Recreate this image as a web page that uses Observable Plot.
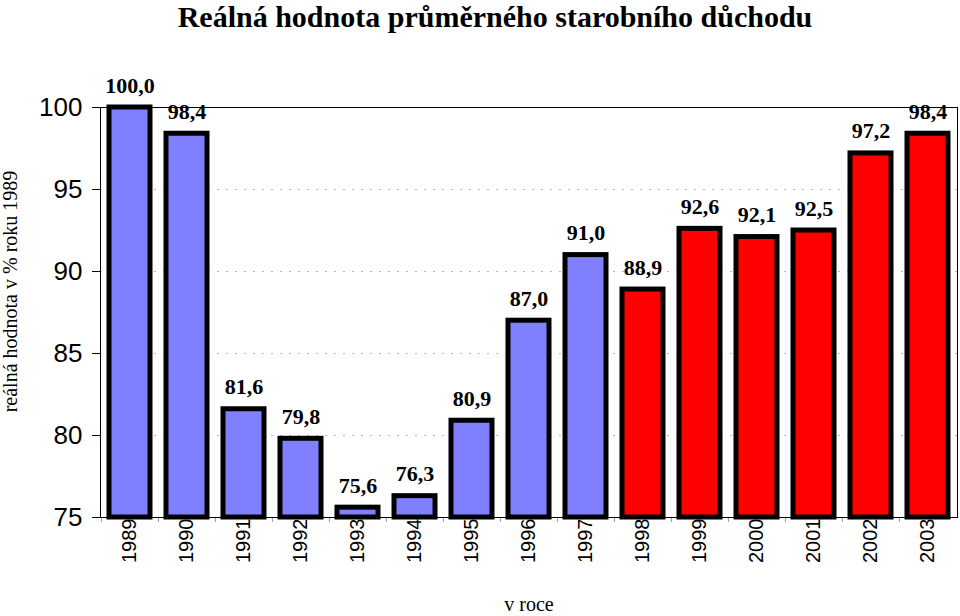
<!DOCTYPE html>
<html>
<head>
<meta charset="utf-8">
<script src="https://cdn.jsdelivr.net/npm/d3@7"></script>
<script src="https://cdn.jsdelivr.net/npm/@observablehq/plot@0.6"></script>
<style>
  html, body { margin: 0; padding: 0; background: #fff; overflow: hidden; }
  #title { width: 960px; height: 32px; line-height: 34px; text-align: center; padding-left: 30px; box-sizing: border-box;
           font-family: "Liberation Serif", "DejaVu Serif", serif; font-weight: bold; font-size: 30px; color: #000; white-space: nowrap; }
  #chart svg { display: block; }
</style>
</head>
<body>
<div id="title"></div>
<div id="chart"></div>
<script>
const titleText = "Reálná hodnota průměrného starobního důchodu";
const yLabel = "reálná hodnota v % roku 1989";
const xLabel = "v roce";
const years = ["1989","1990","1991","1992","1993","1994","1995","1996","1997","1998","1999","2000","2001","2002","2003"];
const values = [100.0, 98.4, 81.6, 79.8, 75.6, 76.3, 80.9, 87.0, 91.0, 88.9, 92.6, 92.1, 92.5, 97.2, 98.4];
const periods = ["před 1998","před 1998","před 1998","před 1998","před 1998","před 1998","před 1998","před 1998","před 1998",
                 "od 1998","od 1998","od 1998","od 1998","od 1998","od 1998"];
const yTicks = [75, 80, 85, 90, 95, 100];
const gridTicks = [80, 85, 90, 95];
const yDomain = [75, 100];

document.getElementById("title").textContent = titleText;

const data = years.map((y, i) => ({year: y, value: values[i], period: periods[i]}));
const serif = "Liberation Serif, DejaVu Serif, serif";
const sans = "Liberation Sans, Arial, sans-serif";

const width = 960, height = 584;
const mL = 100, mR = 3, mT = 75, mB = 99;
const bw = (width - mL - mR) / years.length;

const chart = Plot.plot({
  width, height,
  marginLeft: mL, marginRight: mR, marginTop: mT, marginBottom: mB,
  style: {background: "#fff", overflow: "visible"},
  x: {domain: years, paddingInner: 0.28, paddingOuter: 0.14, align: 0.5, label: null},
  y: {domain: yDomain, label: null},
  color: {domain: ["před 1998", "od 1998"], range: ["#8080FF", "#FF0000"]},
  marks: [
    Plot.ruleY(gridTicks, {stroke: "#b8b8b8", strokeDasharray: "2,7", strokeWidth: 1.2}),
    Plot.ruleX(years, {x: d => d, dx: -bw / 2, y1: yDomain[0], y2: yDomain[0] - 0.3, stroke: "#999"}),
    Plot.frame({stroke: "#000", strokeWidth: 1}),
    Plot.barY(data, {x: "year", y1: yDomain[0], y2: "value", fill: "period", stroke: "#000", strokeWidth: 5}),
    Plot.text(data, {x: "year", y: "value", text: d => d.value.toFixed(1).replace(".", ","), dy: -22,
      fontFamily: serif, fontWeight: "bold", fontSize: 22, fill: "#000"}),
    Plot.axisY({ticks: yTicks, tickSize: 8, tickPadding: 10, fontSize: 26, fontFamily: sans, stroke: "#000",
      tickFormat: d => String(d), label: null}),
    Plot.axisX({tickSize: 0, tickRotate: -90, tickPadding: 1, fontSize: 20, fontFamily: sans, label: null}),
    Plot.text([xLabel], {frameAnchor: "bottom", dy: 93, fontFamily: serif, fontSize: 20, fill: "#000"}),
    Plot.text([yLabel], {frameAnchor: "left", textAnchor: "middle", dx: -90, dy: -21, rotate: -90,
      fontFamily: serif, fontSize: 20, fill: "#000"})
  ]
});
document.getElementById("chart").appendChild(chart);
</script>
</body>
</html>
